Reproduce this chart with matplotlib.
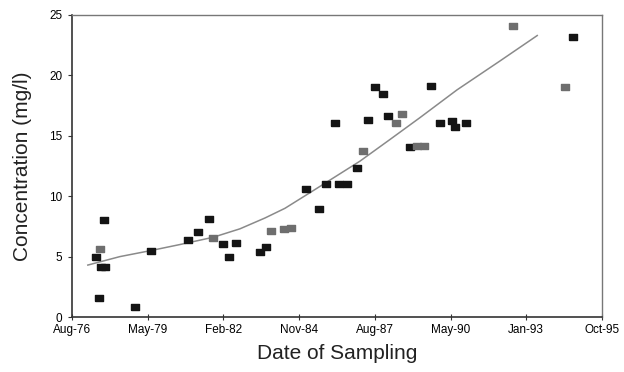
import numpy as np
import pandas as pd
import matplotlib
matplotlib.use("Agg")
import matplotlib.pyplot as plt
import matplotlib.dates as mdates

# sampled concentrations, dark markers
black_dates = ["1977-07-10", "1977-10-23", "1977-08-22", "1977-09-16", "1977-11-03",
               "1978-12-13", "1979-07-05", "1980-11-06", "1981-03-14", "1981-08-15",
               "1982-02-10", "1982-05-05", "1982-08-04", "1983-06-18", "1983-09-02",
               "1985-02-13", "1985-08-08", "1985-11-03", "1986-03-03", "1986-04-23",
               "1986-08-07", "1986-12-14", "1987-05-16", "1987-08-15", "1987-12-02",
               "1988-01-30", "1988-11-17", "1989-08-18", "1989-12-20", "1990-05-22",
               "1990-07-05", "1990-11-28", "1994-10-15"]
black_conc = [5.0, 8.0, 1.6, 4.1, 4.1,
              0.8, 5.5, 6.4, 7.0, 8.1,
              6.05, 4.97, 6.15, 5.4, 5.8,
              10.6, 8.95, 11.0, 16.1, 11.05,
              11.05, 12.3, 16.3, 19.0, 18.5,
              16.6, 14.1, 19.1, 16.1, 16.2,
              15.7, 16.1, 23.15]

# sampled concentrations, grey markers
grey_dates = ["1977-09-02", "1981-10-09", "1983-11-06", "1984-04-27", "1984-07-31",
              "1987-03-01", "1988-05-11", "1988-07-30", "1989-02-20", "1989-05-22",
              "1992-08-15", "1994-06-28"]
grey_conc = [5.6, 6.5, 7.1, 7.3, 7.4,
             13.75, 16.1, 16.8, 14.15, 14.15,
             24.1, 19.0]

# smoothed trend
trend_dates = ["1977-03-25", "1978-05-22", "1979-07-05", "1980-07-24", "1981-10-05",
               "1982-09-24", "1983-08-22", "1984-05-11", "1985-04-08", "1986-03-03",
               "1987-01-26", "1988-02-28", "1989-03-28", "1990-07-31", "1992-02-20",
               "1993-06-25"]
trend_conc = [4.3, 5.0, 5.5, 6.0, 6.6,
              7.3, 8.2, 9.0, 10.3, 11.6,
              12.9, 14.7, 16.5, 18.8, 21.2,
              23.3]

axis_start = "1976-08-28"

plt.rcParams["font.family"] = ["Liberation Sans", "DejaVu Sans"]

fig = plt.figure(figsize=(6.24, 3.72), dpi=100)
ax = fig.add_axes([0.1154, 0.1478, 0.8493, 0.8119])

# rectangular marker, a bit wider than tall
rect = [(-1, -0.7), (1, -0.7), (1, 0.7), (-1, 0.7), (-1, -0.7)]

ax.plot(pd.to_datetime(trend_dates), trend_conc, color="#8a8a8a", lw=1.1, zorder=2)
ax.plot(pd.to_datetime(black_dates), black_conc, ls="none", marker=rect,
        ms=6, color="#141414", zorder=3)
ax.plot(pd.to_datetime(grey_dates), grey_conc, ls="none", marker=rect,
        ms=6, color="#6e6e6e", zorder=3)

x0 = mdates.date2num(pd.Timestamp(axis_start))
ax.set_xlim(x0, x0 + 7000)
ax.set_xticks([x0 + 1000 * k for k in range(8)])
ax.xaxis.set_major_formatter(mdates.DateFormatter("%b-%y"))
ax.set_ylim(0, 25)
ax.set_yticks([0, 5, 10, 15, 20, 25])

for side in ["left", "bottom"]:
    ax.spines[side].set_color("#333333")
    ax.spines[side].set_linewidth(1.2)
for side in ["top", "right"]:
    ax.spines[side].set_color("#777777")
    ax.spines[side].set_linewidth(1.0)

ax.tick_params(axis="x", direction="inout", length=4, labelsize=8.5, pad=3, color="#333333")
ax.tick_params(axis="y", direction="out", length=3, labelsize=8.5, pad=4, color="#333333")

ax.set_xlabel("Date of Sampling", fontsize=15, labelpad=6, color="#222222")
ax.set_ylabel("Concentration (mg/l)", fontsize=15, labelpad=12, color="#222222")

fig.savefig("out.png", dpi=100)
